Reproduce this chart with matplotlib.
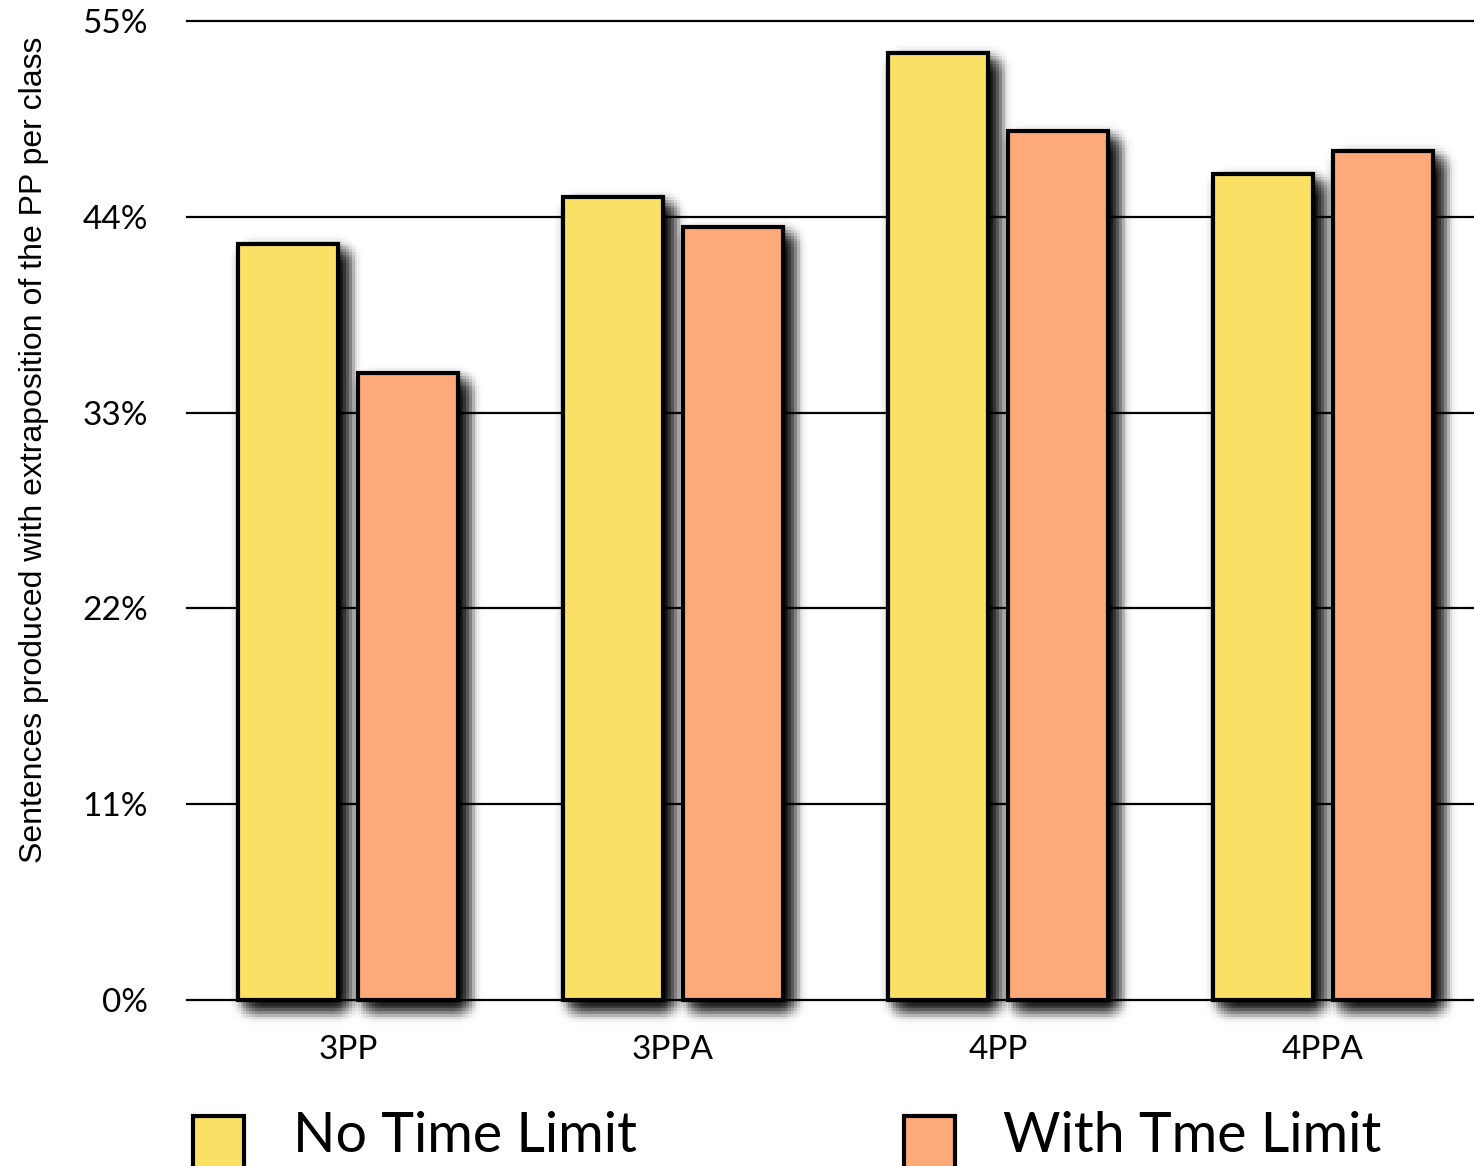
import matplotlib
matplotlib.use("Agg")
import matplotlib.pyplot as plt
import matplotlib.patheffects as pe
from matplotlib.patches import Rectangle
import numpy as np

categories = ["3PP", "3PPA", "4PP", "4PPA"]
no_limit = [42.5, 45.1, 53.2, 46.4]
with_limit = [35.2, 43.4, 48.8, 47.7]
yticks = [0, 11, 22, 33, 44, 55]
series_names = ["No Time Limit", "With Tme Limit"]

YELLOW = "#FAE166"
ORANGE = "#FDAA78"

# soft drop shadow: gaussian-weighted stack of faint offset copies
shadow = []
steps = np.arange(-14, 14.1, 2.0)
g = np.exp(-0.5 * (steps / 5.0) ** 2)
g = g / g.sum()
for i, dx in enumerate(steps):
    for j, dy in enumerate(steps):
        a = 2.0 * g[i] * g[j]
        shadow.append(pe.SimplePatchShadow(offset=(6 + dx, -6 + dy),
                                           shadow_rgbFace="black", alpha=a))
shadow.append(pe.Normal())

fig = plt.figure(figsize=(14.74, 11.66), dpi=100)
ax = fig.add_axes([187 / 1474, 166 / 1166, 1287 / 1474, 979 / 1166])

x = np.arange(len(categories))
w = 0.3077
off = 0.1846
for t in yticks:
    ax.axhline(t, color="black", lw=1.6, zorder=0, clip_on=False)
b1 = ax.bar(x - off, no_limit, w, color=YELLOW, edgecolor="black", lw=3, zorder=2, clip_on=False)
b2 = ax.bar(x + off, with_limit, w, color=ORANGE, edgecolor="black", lw=3, zorder=2, clip_on=False)
for b in list(b1) + list(b2):
    b.set_path_effects(shadow)

ax.set_xlim(-0.495, 3.465)
ax.set_ylim(0, 55)
ax.set_yticks(yticks)
ax.set_yticklabels([f"{t}%" for t in yticks], family="Lato", fontsize=24)
ax.set_xticks(x)
ax.set_xticklabels(categories, family="Lato", fontsize=24)
ax.tick_params(length=0, axis="y", pad=28)
ax.tick_params(length=0, axis="x", pad=25)
for s in ax.spines.values():
    s.set_visible(False)
ax.set_ylabel("Sentences produced with extraposition of the PP per class",
              family="Liberation Sans", fontsize=23)
ax.yaxis.set_label_coords(-0.107, 0.562)

# legend along the bottom edge
for xs, xt, c, name in [(193, 293, YELLOW, series_names[0]), (904, 1003, ORANGE, series_names[1])]:
    fig.patches.append(Rectangle((xs / 1474, -0.01), 51 / 1474, 50 / 1166 + 0.01,
                                 transform=fig.transFigure, facecolor=c,
                                 edgecolor="black", lw=3))
    fig.text(xt / 1474, 1 - 1137 / 1166, name, family="Lato", fontsize=40,
             va="center", ha="left")

fig.savefig("out.png", dpi=100)
